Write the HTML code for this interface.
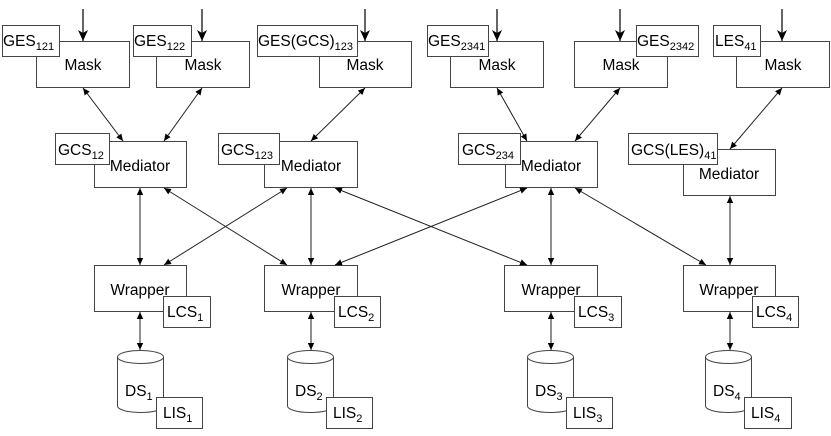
<!DOCTYPE html>
<html><head><meta charset="utf-8"><style>
html,body{margin:0;padding:0;background:#fff}
svg text{font-family:"Liberation Sans",Arial,sans-serif;font-size:15.5px;fill:#000}
svg text .s{font-size:11px}
</style></head><body>
<svg width="831" height="431" xmlns="http://www.w3.org/2000/svg">
<defs>
<marker id="a" markerWidth="8" markerHeight="8" refX="7" refY="4" orient="auto-start-reverse" markerUnits="userSpaceOnUse"><path d="M0,0.8 L7,4 L0,7.2 Z" fill="#000"/></marker>
<marker id="b" markerWidth="12" markerHeight="12" refX="11" refY="5" orient="auto" markerUnits="userSpaceOnUse"><path d="M0,0 L11,5 L0,10 L3,5 Z" fill="#000"/></marker>
</defs>
<g fill="#fff" stroke="#444" stroke-width="1">
<rect x="36.5" y="41.5" width="93" height="46"/>
<rect x="156.5" y="41.5" width="93" height="46"/>
<rect x="319.5" y="41.5" width="92" height="46"/>
<rect x="450.5" y="41.5" width="93" height="46"/>
<rect x="574.5" y="41.5" width="93" height="46"/>
<rect x="736.5" y="41.5" width="93" height="46"/>
<rect x="2.5" y="25.5" width="57" height="31"/>
<rect x="133.5" y="25.5" width="58" height="31"/>
<rect x="257.5" y="25.5" width="100" height="31"/>
<rect x="427.5" y="25.5" width="61" height="31"/>
<rect x="636.5" y="25.5" width="62" height="31"/>
<rect x="713.5" y="25.5" width="47" height="31"/>
<rect x="94.5" y="141.5" width="92" height="46"/>
<rect x="264.5" y="141.5" width="93" height="46"/>
<rect x="505.5" y="141.5" width="92" height="46"/>
<rect x="683.5" y="149.5" width="92" height="46"/>
<rect x="55.5" y="133.5" width="54" height="31"/>
<rect x="218.5" y="133.5" width="61" height="31"/>
<rect x="458.5" y="133.5" width="62" height="31"/>
<rect x="628.5" y="133.5" width="89" height="31"/>
<rect x="94.5" y="265.5" width="92" height="46"/>
<rect x="264.5" y="265.5" width="93" height="46"/>
<rect x="504.5" y="265.5" width="93" height="46"/>
<rect x="683.5" y="265.5" width="92" height="46"/>
<rect x="163.5" y="296.5" width="47" height="31"/>
<rect x="334.5" y="296.5" width="46" height="31"/>
<rect x="574.5" y="296.5" width="47" height="31"/>
<rect x="752.5" y="296.5" width="46" height="31"/>
<path d="M117.5,357 A23,6.5 0 0 1 163.5,357 V406 A23,6.5 0 0 1 117.5,406 Z M117.5,357 A23,6.5 0 0 0 163.5,357"/>
<path d="M287.5,357 A23,6.5 0 0 1 333.5,357 V406 A23,6.5 0 0 1 287.5,406 Z M287.5,357 A23,6.5 0 0 0 333.5,357"/>
<path d="M527.5,357 A23,6.5 0 0 1 573.5,357 V406 A23,6.5 0 0 1 527.5,406 Z M527.5,357 A23,6.5 0 0 0 573.5,357"/>
<path d="M705.5,357 A23,6.5 0 0 1 751.5,357 V406 A23,6.5 0 0 1 705.5,406 Z M705.5,357 A23,6.5 0 0 0 751.5,357"/>
<rect x="156.5" y="397.5" width="46" height="31"/>
<rect x="326.5" y="397.5" width="46" height="31"/>
<rect x="566.5" y="397.5" width="46" height="31"/>
<rect x="744.5" y="397.5" width="47" height="31"/>
</g>
<g stroke="#000" stroke-width="1.2" marker-end="url(#b)">
<line x1="83" y1="9" x2="83" y2="41"/>
<line x1="202" y1="9" x2="202" y2="41"/>
<line x1="365" y1="9" x2="365" y2="41"/>
<line x1="497" y1="9" x2="497" y2="41"/>
<line x1="620" y1="9" x2="620" y2="41"/>
<line x1="782" y1="9" x2="782" y2="41"/>
</g>
<g stroke="#222" stroke-width="1" marker-start="url(#a)" marker-end="url(#a)">
<line x1="83" y1="88" x2="123" y2="141"/>
<line x1="202" y1="88" x2="164" y2="141"/>
<line x1="365" y1="88" x2="311" y2="141"/>
<line x1="497" y1="88" x2="527" y2="141"/>
<line x1="620" y1="88" x2="575" y2="141"/>
<line x1="782" y1="88" x2="730" y2="149"/>
<line x1="140" y1="188" x2="140" y2="265"/>
<line x1="164" y1="188" x2="287" y2="265"/>
<line x1="287" y1="188" x2="164" y2="265"/>
<line x1="311" y1="188" x2="311" y2="265"/>
<line x1="335" y1="188" x2="527" y2="265"/>
<line x1="527" y1="188" x2="335" y2="265"/>
<line x1="551" y1="188" x2="551" y2="265"/>
<line x1="575" y1="188" x2="706" y2="265"/>
<line x1="730" y1="196" x2="730" y2="265"/>
<line x1="140" y1="312" x2="140" y2="350"/>
<line x1="311" y1="312" x2="311" y2="350"/>
<line x1="551" y1="312" x2="551" y2="350"/>
<line x1="730" y1="312" x2="730" y2="350"/>
</g>
<g text-anchor="middle">
<text x="83" y="70">Mask</text><text x="203" y="70">Mask</text><text x="365" y="70">Mask</text>
<text x="497" y="70">Mask</text><text x="621" y="70">Mask</text><text x="783" y="70">Mask</text>
<text x="140" y="171">Mediator</text><text x="311" y="171">Mediator</text>
<text x="551" y="171">Mediator</text><text x="729" y="179">Mediator</text>
<text x="140" y="295">Wrapper</text><text x="311" y="295">Wrapper</text>
<text x="551" y="295">Wrapper</text><text x="729" y="295">Wrapper</text>
</g>
<text x="3" y="46">GES<tspan class="s" dy="4">121</tspan></text>
<text x="134" y="46">GES<tspan class="s" dy="4">122</tspan></text>
<text x="258" y="46">GES(GCS)<tspan class="s" dy="4">123</tspan></text>
<text x="428" y="46">GES<tspan class="s" dy="4">2341</tspan></text>
<text x="637" y="46">GES<tspan class="s" dy="4">2342</tspan></text>
<text x="715" y="46">LES<tspan class="s" dy="4">41</tspan></text>
<text x="58" y="155">GCS<tspan class="s" dy="4">12</tspan></text>
<text x="221" y="155">GCS<tspan class="s" dy="4">123</tspan></text>
<text x="462" y="155">GCS<tspan class="s" dy="4">234</tspan></text>
<text x="631" y="155">GCS(LES)<tspan class="s" dy="4">41</tspan></text>
<text x="167" y="317">LCS<tspan class="s" dy="4">1</tspan></text>
<text x="338" y="317">LCS<tspan class="s" dy="4">2</tspan></text>
<text x="578" y="317">LCS<tspan class="s" dy="4">3</tspan></text>
<text x="756" y="317">LCS<tspan class="s" dy="4">4</tspan></text>
<text x="125" y="396">DS<tspan class="s" dy="4">1</tspan></text>
<text x="295" y="396">DS<tspan class="s" dy="4">2</tspan></text>
<text x="535" y="396">DS<tspan class="s" dy="4">3</tspan></text>
<text x="713" y="396">DS<tspan class="s" dy="4">4</tspan></text>
<text x="163" y="418">LIS<tspan class="s" dy="4">1</tspan></text>
<text x="333" y="418">LIS<tspan class="s" dy="4">2</tspan></text>
<text x="573" y="418">LIS<tspan class="s" dy="4">3</tspan></text>
<text x="751" y="418">LIS<tspan class="s" dy="4">4</tspan></text>
</svg>
</body></html>
